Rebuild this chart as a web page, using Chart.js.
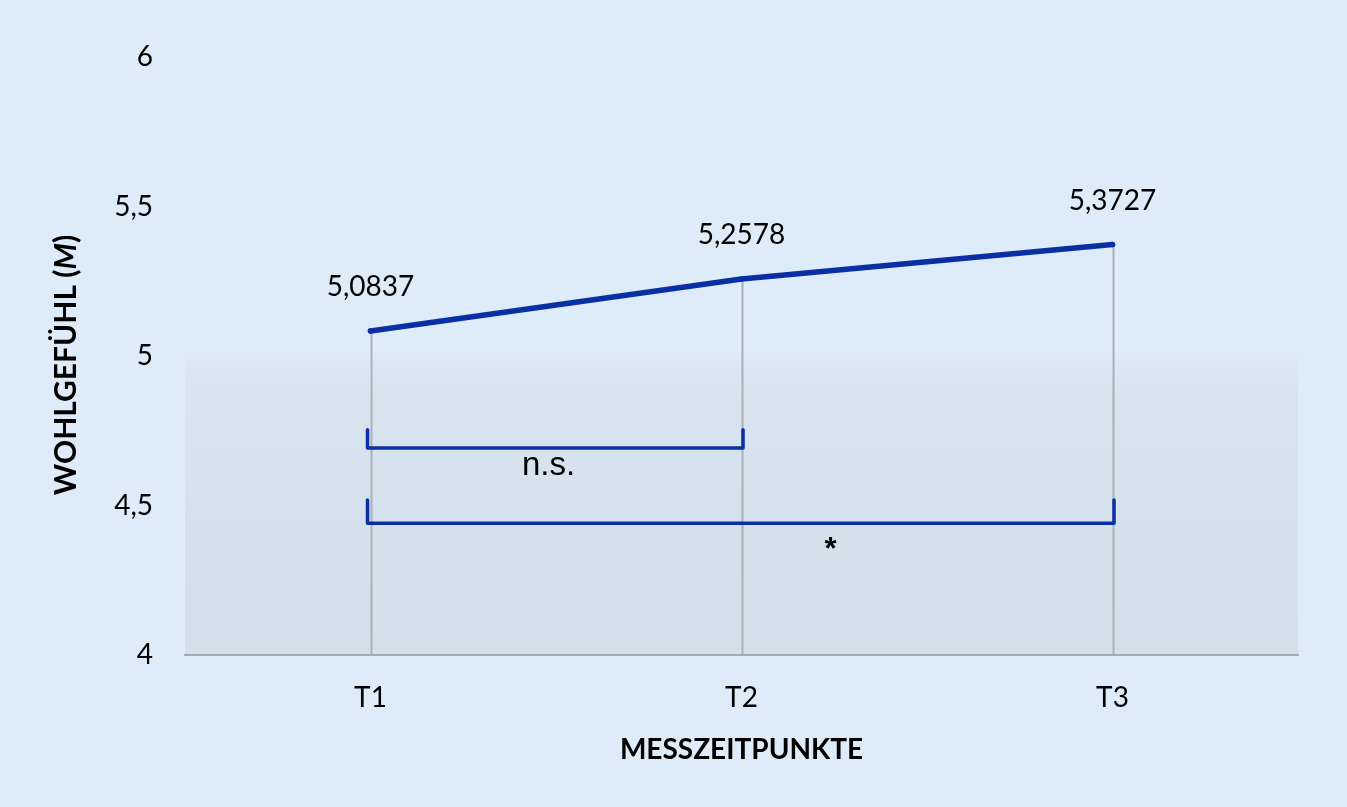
<!DOCTYPE html>
<html><head><meta charset="utf-8">
<script src="https://cdn.jsdelivr.net/npm/chart.js@4.4.1/dist/chart.umd.min.js"></script>
<style>html,body{margin:0;padding:0;background:#deebf8;overflow:hidden}#wrap{width:1347px;height:807px;position:relative}</style>
</head><body><div id="wrap"><canvas id="c"></canvas></div>
<script>
const categories = ['T1', 'T2', 'T3'];
const wohlgefuehl = [5.0837, 5.2578, 5.3727];
const yTickValues = [4, 4.5, 5, 5.5, 6];
const xTitle = 'MESSZEITPUNKTE';
const yTitleParts = ['WOHLGEFÜHL (', 'M', ')'];
// significance brackets (category index span, value levels)
const bracketFrom = [0, 0];
const bracketTo = [1, 2];
const bracketLevel = [4.692, 4.441];
const bracketTop = [4.753, 4.518];
const bracketLabels = ['n.s.', '*'];
const bracketLabelIndex = [0.48, 1.24];
const bracketLabelValue = [4.632, 4.351];

const BG = '#deebf8';
const LINE = '#0a2ea3';
const FONT = 'Lato, "Open Sans", sans-serif';
const fmt = v => String(v).replace('.', ',');

const decor = {
  id: 'decor',
  beforeDraw(chart) {
    const {ctx, chartArea: ca, scales: {x, y}} = chart;
    ctx.save();
    ctx.fillStyle = BG;
    ctx.fillRect(0, 0, chart.width, chart.height);
    const top = y.getPixelForValue(5.02);
    const g = ctx.createLinearGradient(0, top, 0, ca.bottom);
    g.addColorStop(0, 'rgba(214,226,238,0.0)');
    g.addColorStop(0.12, 'rgba(216,228,240,1)');
    g.addColorStop(1, 'rgb(210,222,233)');
    ctx.fillStyle = g;
    ctx.fillRect(ca.left, top, ca.right - ca.left, ca.bottom - top);
    ctx.restore();
  },
  beforeDatasetsDraw(chart) {
    const {ctx, chartArea: ca, scales: {x, y}} = chart;
    ctx.save();
    ctx.strokeStyle = '#aab1b9';
    ctx.lineWidth = 2;
    wohlgefuehl.forEach((v, i) => {
      const px = Math.round(x.getPixelForValue(i)) + 0.5;
      ctx.beginPath();
      ctx.moveTo(px, y.getPixelForValue(v));
      ctx.lineTo(px, ca.bottom);
      ctx.stroke();
    });
    // brackets
    ctx.strokeStyle = LINE;
    ctx.lineWidth = 3.5;
    ctx.lineJoin = 'round';
    ctx.lineCap = 'round';
    bracketFrom.forEach((f, k) => {
      const x1 = x.getPixelForValue(f) - 3;
      const x2 = x.getPixelForValue(bracketTo[k]) + 1.5;
      const yl = y.getPixelForValue(bracketLevel[k]);
      const yt = y.getPixelForValue(bracketTop[k]);
      ctx.beginPath();
      ctx.moveTo(x1, yt);
      ctx.lineTo(x1, yl);
      ctx.lineTo(x2, yl);
      ctx.lineTo(x2, yt);
      ctx.stroke();
    });
    ctx.fillStyle = '#000';
    ctx.textAlign = 'center';
    ctx.textBaseline = 'middle';
    bracketLabels.forEach((t, k) => {
      ctx.font = (t === '*' ? 'bold 31px ' : '33px ') + '"Liberation Sans", Arial, sans-serif';
      ctx.fillText(t, x.getPixelForValue(bracketLabelIndex[k]), y.getPixelForValue(bracketLabelValue[k]));
    });
    ctx.restore();
  },
  afterDatasetsDraw(chart) {
    const {ctx, scales: {x, y}} = chart;
    ctx.save();
    ctx.fillStyle = '#000';
    ctx.font = '28px ' + FONT;
    ctx.textAlign = 'center';
    ctx.textBaseline = 'middle';
    wohlgefuehl.forEach((v, i) => {
      ctx.fillText(fmt(v), x.getPixelForValue(i), y.getPixelForValue(v) - 44);
    });
    // y-axis title with italic M
    ctx.translate(66, 365);
    ctx.rotate(-Math.PI / 2);
    const fonts = ['bold 30px ' + FONT, 'bold italic 30px ' + FONT, 'bold 30px ' + FONT];
    const widths = yTitleParts.map((p, i) => { ctx.font = fonts[i]; return ctx.measureText(p).width; });
    let cx = -widths.reduce((a, b) => a + b, 0) / 2;
    ctx.textAlign = 'left';
    yTitleParts.forEach((p, i) => { ctx.font = fonts[i]; ctx.fillText(p, cx, 0); cx += widths[i]; });
    ctx.restore();
  }
};

new Chart(document.getElementById('c'), {
  type: 'line',
  data: {
    labels: categories,
    datasets: [{
      data: wohlgefuehl,
      borderColor: LINE,
      backgroundColor: LINE,
      borderWidth: 5.5,
      borderCapStyle: 'round',
      borderJoinStyle: 'round',
      pointRadius: 2.75,
      pointBorderWidth: 0,
      tension: 0
    }]
  },
  options: {
    responsive: true,
    maintainAspectRatio: false,
    animation: false,
    events: [],
    layout: { padding: { top: 57, right: 49, left: 0, bottom: 0 } },
    plugins: { legend: { display: false }, tooltip: { enabled: false } },
    scales: {
      x: {
        offset: true,
        grid: { display: false, drawTicks: false },
        border: { display: true, color: '#a3aab2', width: 2 },
        ticks: { color: '#000', font: { family: FONT, size: 28 }, padding: 26, maxRotation: 0 },
        title: { display: true, text: xTitle, color: '#000', font: { family: FONT, size: 28, weight: 'bold' }, padding: { top: 0, bottom: 40 } },
        afterFit(s) { s.height = 152; }
      },
      y: {
        min: 4, max: 6,
        afterBuildTicks(s) { s.ticks = yTickValues.map(v => ({ value: v })); },
        grid: { display: false, drawTicks: false },
        border: { display: false },
        ticks: { color: '#000', font: { family: FONT, size: 28 }, padding: 32, callback: v => fmt(v) },
        afterFit(s) { s.width = 185; }
      }
    }
  },
  plugins: [decor]
});
</script></body></html>
